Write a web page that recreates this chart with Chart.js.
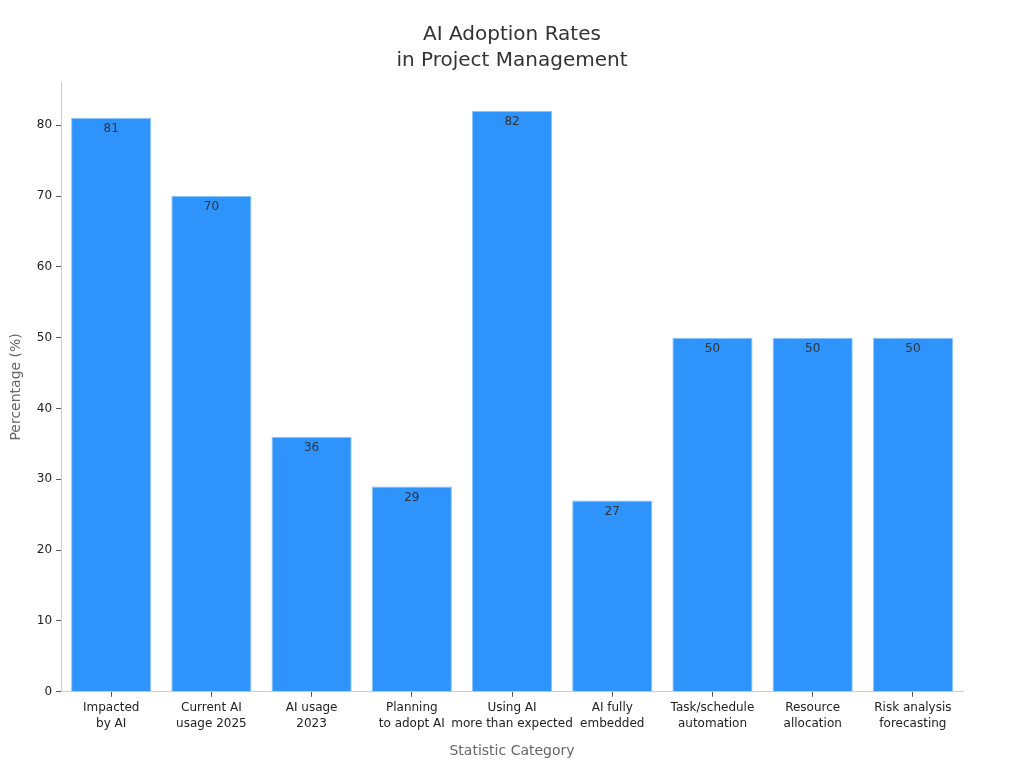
<!DOCTYPE html>
<html>
<head>
<meta charset="utf-8">
<script src="https://cdn.jsdelivr.net/npm/chart.js@4/dist/chart.umd.min.js"></script>
<style>
  html, body { margin: 0; padding: 0; background: #fff; }
  #wrap { width: 1024px; height: 768px; }
</style>
</head>
<body>
<div id="wrap"><canvas id="chart"></canvas></div>
<script>
// chart data
const categories = [
    ['Impacted', 'by AI'],
    ['Current AI', 'usage 2025'],
    ['AI usage', '2023'],
    ['Planning', 'to adopt AI'],
    ['Using AI', 'more than expected'],
    ['AI fully', 'embedded'],
    ['Task/schedule', 'automation'],
    ['Resource', 'allocation'],
    ['Risk analysis', 'forecasting'],
];
const percentages = [81, 70, 36, 29, 82, 27, 50, 50, 50];
const yTicks = [0, 10, 20, 30, 40, 50, 60, 70, 80];

const FONT = "'DejaVu Sans', sans-serif";

// draw value labels just inside the top of each bar
const barLabels = {
    id: 'barLabels',
    afterDatasetsDraw(chart) {
        const ctx = chart.ctx;
        const meta = chart.getDatasetMeta(0);
        ctx.save();
        ctx.font = '12px ' + FONT;
        ctx.fillStyle = '#333';
        ctx.textAlign = 'center';
        ctx.textBaseline = 'top';
        meta.data.forEach((bar, i) => {
            ctx.fillText(String(percentages[i]), bar.x, bar.y + 5);
        });
        ctx.restore();
    },
};

const ctx = document.getElementById('chart').getContext('2d');
new Chart(ctx, {
    type: 'bar',
    data: {
        labels: categories,
        datasets: [{
            label: 'Percentage',
            data: percentages,
            backgroundColor: '#2E93FA',
            borderColor: '#8cc4fb',
            borderWidth: 1,
            barPercentage: 0.8,
            categoryPercentage: 1.0,
        }],
    },
    options: {
        responsive: true,
        maintainAspectRatio: false,
        animation: false,
        layout: { padding: { left: 4, right: 4, top: 6, bottom: 4 } },
        plugins: {
            legend: { display: false },
            tooltip: { enabled: false },
            title: {
                display: true,
                text: ['AI Adoption Rates', 'in Project Management'],
                color: '#333',
                font: { family: FONT, size: 20, weight: 'normal', lineHeight: 1.3 },
                padding: { top: 16, bottom: 8 },
            },
        },
        scales: {
            x: {
                grid: { display: true, offset: false, drawOnChartArea: false, drawTicks: true, tickLength: 5, color: '#555' },
                border: { color: '#ccc' },
                ticks: { color: '#222', font: { family: FONT, size: 12, lineHeight: 1.35 }, padding: 3, maxRotation: 0, autoSkip: false },
                title: {
                    display: true,
                    text: 'Statistic Category',
                    color: '#666',
                    font: { family: FONT, size: 14 },
                    padding: { top: 8 },
                },
            },
            y: {
                min: 0,
                max: 86.1,
                grid: { display: true, drawOnChartArea: false, drawTicks: true, tickLength: 5, color: '#555' },
                border: { color: '#ccc' },
                afterBuildTicks(scale) {
                    scale.ticks = yTicks.map(v => ({ value: v }));
                },
                ticks: { color: '#222', font: { family: FONT, size: 12 }, padding: 4 },
                title: {
                    display: true,
                    text: 'Percentage (%)',
                    color: '#666',
                    font: { family: FONT, size: 14 },
                    padding: { bottom: 8 },
                },
            },
            // empty spacer on the right so the title stays centred on the page
            spacer: {
                type: 'linear',
                position: 'right',
                display: true,
                grid: { display: false },
                border: { display: false },
                ticks: { display: false },
                afterFit(scale) { scale.width = 57; },
            },
        },
    },
    plugins: [barLabels],
});
</script>
</body>
</html>
